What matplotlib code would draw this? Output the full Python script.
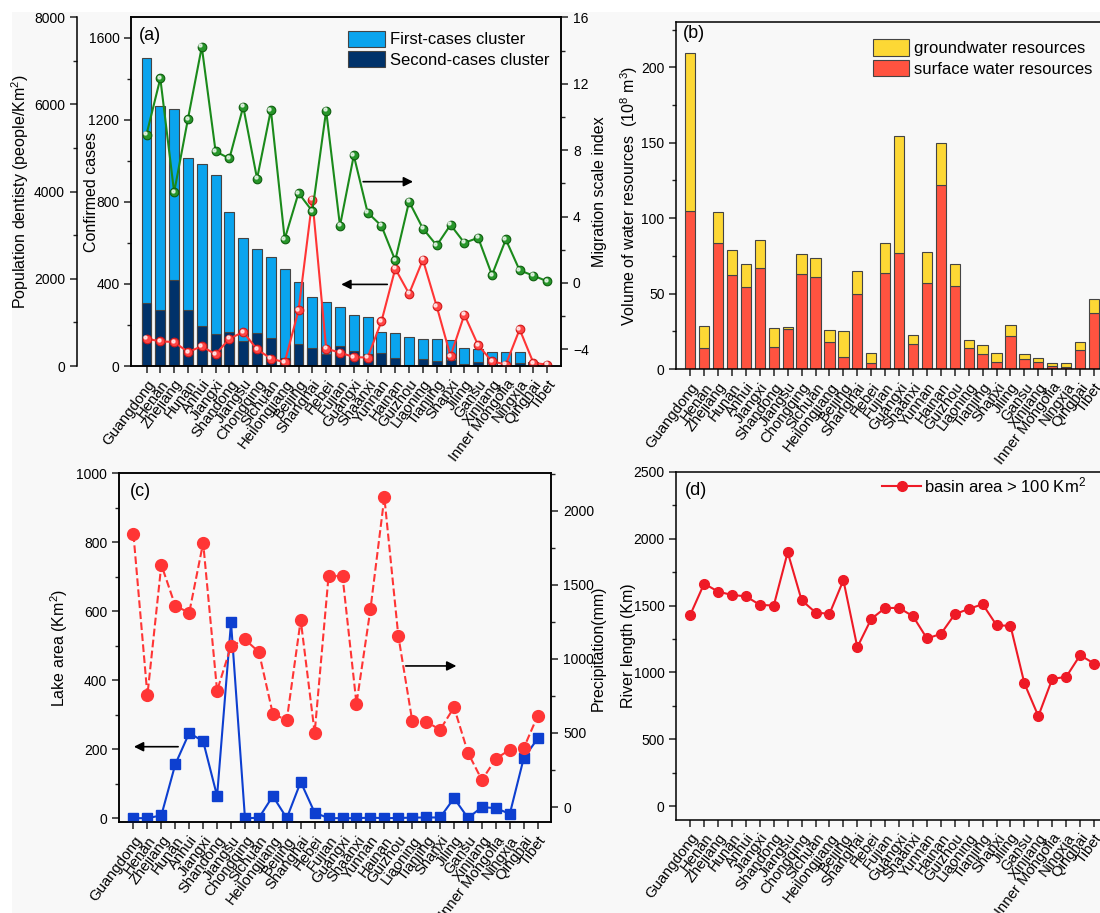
import matplotlib
matplotlib.use('Agg')
import matplotlib.pyplot as plt
import numpy as np
from matplotlib.ticker import MultipleLocator
from matplotlib.patches import Rectangle
import matplotlib.transforms as mtransforms

plt.rcParams['font.family'] = ['Liberation Sans', 'DejaVu Sans']
plt.rcParams['mathtext.fontset'] = 'custom'
plt.rcParams['mathtext.rm'] = 'Liberation Sans'
plt.rcParams['mathtext.it'] = 'Liberation Sans:italic'
plt.rcParams['mathtext.bf'] = 'Liberation Sans:bold'
plt.rcParams['axes.linewidth'] = 1.1

# ---------------- data ----------------
provinces = ['Guangdong', 'Henan', 'Zhejiang', 'Hunan', 'Anhui', 'Jiangxi', 'Shandong',
             'Jiangsu', 'Chongqing', 'Sichuan', 'Heilongjiang', 'Beijing', 'Shanghai',
             'Hebei', 'Fujian', 'Guangxi', 'Shaanxi', 'Yunnan', 'Hainan', 'Guizhou',
             'Liaoning', 'Tianjing', 'Shanxi', 'Jiling', 'Gansu', 'Xinjiang',
             'Inner Mongolia', 'Ningxia', 'Qinghai', 'Tibet']

# (a) confirmed cases (total bar height) and second-cases cluster
confirmed_total = [1503, 1268, 1254, 1014, 986, 931, 752, 622, 570, 532, 474, 408, 334,
                   313, 290, 248, 240, 168, 160, 139, 134, 131, 127, 88, 85, 70, 69, 67, 18, 1]
second_cluster = [307, 274, 421, 274, 196, 158, 165, 122, 160, 137, 41, 106, 90,
                  57, 98, 73, 57, 65, 41, 6, 33, 23, 29, 11, 21, 6, 8, 13, 0, 0]
pop_density = [627, 566, 550, 321, 451, 268, 627, 779, 383, 170, 85, 1276, 3812,
               398, 307, 206, 192, 1024, 2232, 1658, 2438, 1368, 229, 1177, 474, 108,
               32, 841, 69, 32]
migration_index = [8.94, 12.32, 5.46, 9.88, 14.22, 7.92, 7.5, 10.62, 6.28, 10.42, 2.64,
                   5.42, 4.32, 10.38, 3.44, 7.68, 4.24, 3.44, 1.36, 4.9, 3.28, 2.26,
                   3.5, 2.42, 2.72, 0.48, 2.62, 0.76, 0.44, 0.1]

# (b) water resources (10^8 m^3)
surface_water = [104.4, 13.7, 83.2, 62.5, 54.5, 67.1, 14.4, 26.5, 62.7, 60.7, 18.1, 8.2,
                 49.9, 3.8, 63.4, 77.0, 16.3, 57.2, 121.7, 55.0, 13.9, 10.1, 4.4, 21.9,
                 6.4, 4.4, 2.2, 1.3, 12.6, 37.3]
total_water = [209.5, 28.5, 104.2, 78.6, 69.3, 85.2, 26.9, 28.0, 76.0, 73.3, 25.6, 25.2,
               64.9, 10.4, 83.6, 154.3, 22.5, 77.3, 150.1, 69.5, 19.2, 16.1, 10.8, 29.1,
               10.1, 7.5, 4.2, 4.2, 18.1, 46.6]
groundwater = [t - s for t, s in zip(total_water, surface_water)]

# (c) lake area (Km^2) and precipitation (mm)
lake_area = [0, 0, 8, 156, 247, 223, 64, 568, 0, 1, 64, 0, 105, 16, 0, 0, 0, 1.5, 0, 0.5,
             1.5, 2, 2, 58, 0.5, 32, 29, 12.5, 174, 231]
precipitation = [1840, 754, 1635, 1358, 1311, 1783, 785, 1086, 1131, 1046, 628, 587, 1262,
                 501, 1561, 1557, 697, 1334, 2090, 1156, 582, 576, 522, 673, 366, 182,
                 326, 387, 398, 616]

# (d) river length (Km), basin area > 100 Km^2
river_length = [1430, 1664, 1604, 1579, 1569, 1505, 1500, 1898, 1540, 1448, 1438, 1689,
                1189, 1400, 1482, 1482, 1420, 1254, 1288, 1435, 1475, 1510, 1353, 1348,
                918, 674, 952, 967, 1129, 1067]

# ---------------- styling ----------------
C_LIGHT = '#0aa4ee'
C_DARK = '#00326a'
C_GREEN = '#1b8a1b'
C_RED = '#ff3535'
C_YELLOW = '#fdd835'
C_SURF = '#ff5340'
C_BLUE = '#0d3fd0'
C_RIVER = '#ee1a26'

W, H = 1100, 913
fig = plt.figure(figsize=(W / 100, H / 100), dpi=100, facecolor='white')
fig.add_artist(Rectangle((12 / W, 0), 1, 1 - 12 / H, transform=fig.transFigure,
                         facecolor='#f8f8f8', edgecolor='none', zorder=-10))


def pos(l, r, t, b):
    return [l / W, 1 - b / H, (r - l) / W, (b - t) / H]


def ticks(ax, which_axis='both'):
    ax.tick_params(axis=which_axis, which='major', direction='out', length=5, width=1.1,
                   labelsize=10, color='#222222')
    ax.tick_params(axis=which_axis, which='minor', direction='out', length=3, width=1.0,
                   color='#222222')


def xcats(ax):
    xx = np.arange(len(provinces))
    ax.set_xticks(xx)
    ax.set_xticklabels(provinces, rotation=53, ha='right', rotation_mode='anchor',
                       fontsize=10.7)
    ax.tick_params(axis='x', pad=3)


def sphere_line(ax, xx, y, color, face, edge):
    ax.plot(xx, y, '-', color=color, lw=1.5, marker='o', ms=6.2, mfc=face, mec=edge,
            mew=0.8, zorder=3)
    tr = ax.transData + mtransforms.ScaledTranslation(-1.0 / 72, 1.0 / 72, fig.dpi_scale_trans)
    ax.plot(xx, y, 'o', ms=2.2, color='white', alpha=0.7, transform=tr, linestyle='none',
            zorder=4)


x = np.arange(len(provinces))

# ---------------- panel (a) ----------------
ax = fig.add_axes(pos(131.3, 561.1, 17.3, 366))
ax.patch.set_visible(False)
b1 = ax.bar(x, confirmed_total, width=0.72, color=C_LIGHT, edgecolor='#444444', lw=0.8)
b2 = ax.bar(x, second_cluster, width=0.72, color=C_DARK, edgecolor='#444444', lw=0.8)
ax.set_xlim(-1.1, 30.0)
ax.set_ylim(0, 1700)
ax.yaxis.set_major_locator(MultipleLocator(400))
ax.yaxis.set_minor_locator(MultipleLocator(200))
ticks(ax)
xcats(ax)
ax.set_ylabel('Confirmed cases', fontsize=11.5)
ax.yaxis.set_label_coords(-0.0763, 0.5)

axp = ax.twinx()
axp.spines['left'].set_position(('outward', 39.3))
axp.spines['left'].set_visible(True)
for s in ['right', 'top', 'bottom']:
    axp.spines[s].set_visible(False)
axp.yaxis.set_ticks_position('left')
axp.yaxis.set_label_position('left')
axp.set_ylim(0, 8000)
axp.yaxis.set_major_locator(MultipleLocator(2000))
axp.yaxis.set_minor_locator(MultipleLocator(1000))
ticks(axp, 'y')
axp.set_ylabel('Population dentisty (people/Km$^2$)', fontsize=11.5)
axp.yaxis.set_label_coords(-0.2334, 0.5)
sphere_line(axp, x, pop_density, C_RED, '#ff4545', '#d01818')

ax2 = ax.twinx()
ax2.set_ylim(-5, 16)
ax2.yaxis.set_major_locator(MultipleLocator(4))
ax2.yaxis.set_minor_locator(MultipleLocator(2))
ticks(ax2, 'y')
ax2.set_ylabel('Migration scale index', fontsize=11.5)
ax2.yaxis.set_label_coords(1.0719, 0.5)
sphere_line(ax2, x, migration_index, C_GREEN, '#27962a', '#0e5e0e')
ax2.legend([b1, b2], ['First-cases cluster', 'Second-cases cluster'], loc='upper left',
           bbox_to_anchor=(0.505, 0.962), frameon=False, fontsize=12, handlelength=2.2,
           handleheight=1.15, labelspacing=0.2, handletextpad=0.3, borderpad=0,
           borderaxespad=0)
ax2.text(0.018, 0.949, '(a)', transform=ax2.transAxes, fontsize=13, ha='left', va='center')
ax2.annotate('', xy=(0.662, 0.5286), xytext=(0.533, 0.5286), xycoords='axes fraction',
             arrowprops=dict(arrowstyle='-|>', color='black', lw=1.2, mutation_scale=14))
ax2.annotate('', xy=(0.482, 0.234), xytext=(0.602, 0.234), xycoords='axes fraction',
             arrowprops=dict(arrowstyle='-|>', color='black', lw=1.2, mutation_scale=14))

# ---------------- panel (b) ----------------
axb = fig.add_axes(pos(676.3, 1101, 22, 369))
axb.patch.set_visible(False)
bs = axb.bar(x, surface_water, width=0.74, color=C_SURF, edgecolor='#444444', lw=0.8)
bg = axb.bar(x, groundwater, bottom=surface_water, width=0.74, color=C_YELLOW,
             edgecolor='#444444', lw=0.8)
axb.set_xlim(-1.0, 29.5)
axb.set_ylim(0, 230)
axb.yaxis.set_major_locator(MultipleLocator(50))
axb.yaxis.set_minor_locator(MultipleLocator(25))
ticks(axb)
xcats(axb)
axb.set_ylabel('Volume of water resources  (10$^8$ m$^3$)', fontsize=11.5)
axb.yaxis.set_label_coords(-0.0855, 0.5)
axb.legend([bg, bs], ['groundwater resources', 'surface water resources'], loc='upper left',
           bbox_to_anchor=(0.4626, 0.95), frameon=False, fontsize=12, handlelength=2.2,
           handleheight=1.15, labelspacing=0.2, handletextpad=0.3, borderpad=0,
           borderaxespad=0)
axb.text(0.015, 0.968, '(b)', transform=axb.transAxes, fontsize=13, ha='left', va='center')

# ---------------- panel (c) ----------------
axc = fig.add_axes(pos(119.1, 551.2, 473.3, 822.3))
axc.patch.set_visible(False)
axc.plot(x, lake_area, '-', color=C_BLUE, lw=1.5, marker='s', ms=6.5, mfc=C_BLUE,
         mec=C_BLUE, zorder=3)
axc.set_xlim(-1.03, 29.97)
axc.set_ylim(-12, 1000)
axc.yaxis.set_major_locator(MultipleLocator(200))
axc.yaxis.set_minor_locator(MultipleLocator(100))
ticks(axc)
xcats(axc)
axc.set_ylabel('Lake area (Km$^2$)', fontsize=11.5)
axc.yaxis.set_label_coords(-0.1136, 0.5)
axc.text(0.025, 0.947, '(c)', transform=axc.transAxes, fontsize=13, ha='left', va='center')

axc2 = axc.twinx()
axc2.plot(x, precipitation, '--', color=C_RED, lw=1.5, marker='o', ms=8.5, mfc=C_RED,
          mec=C_RED, zorder=3)
axc2.set_ylim(-103, 2252)
axc2.yaxis.set_major_locator(MultipleLocator(500))
axc2.yaxis.set_minor_locator(MultipleLocator(250))
ticks(axc2, 'y')
axc2.set_ylabel('Precipitation(mm)', fontsize=11.5)
axc2.yaxis.set_label_coords(1.092, 0.5)
axc2.annotate('', xy=(0.0278, 0.2166), xytext=(0.143, 0.2166), xycoords='axes fraction',
              arrowprops=dict(arrowstyle='-|>', color='black', lw=1.2, mutation_scale=14))
axc2.annotate('', xy=(0.787, 0.448), xytext=(0.657, 0.448), xycoords='axes fraction',
              arrowprops=dict(arrowstyle='-|>', color='black', lw=1.2, mutation_scale=14))

# ---------------- panel (d) ----------------
axd = fig.add_axes(pos(676.3, 1101, 471.7, 819.7))
axd.patch.set_visible(False)
axd.plot(x, river_length, '-', color=C_RIVER, lw=1.5, marker='o', ms=7, mfc=C_RIVER,
         mec=C_RIVER, label='basin area > 100 Km$^2$')
axd.set_xlim(-1.0, 29.5)
axd.set_ylim(-100, 2500)
axd.yaxis.set_major_locator(MultipleLocator(500))
axd.yaxis.set_minor_locator(MultipleLocator(250))
ticks(axd)
xcats(axd)
axd.set_ylabel('River length (Km)', fontsize=11.5)
axd.yaxis.set_label_coords(-0.0949, 0.5)
axd.legend(loc='upper left', bbox_to_anchor=(0.4855, 0.99), frameon=False, fontsize=12,
           handlelength=2.3, handletextpad=0.2, borderpad=0, borderaxespad=0)
axd.text(0.02, 0.947, '(d)', transform=axd.transAxes, fontsize=13, ha='left', va='center')

fig.savefig('out.png', dpi=100, facecolor=fig.get_facecolor())
